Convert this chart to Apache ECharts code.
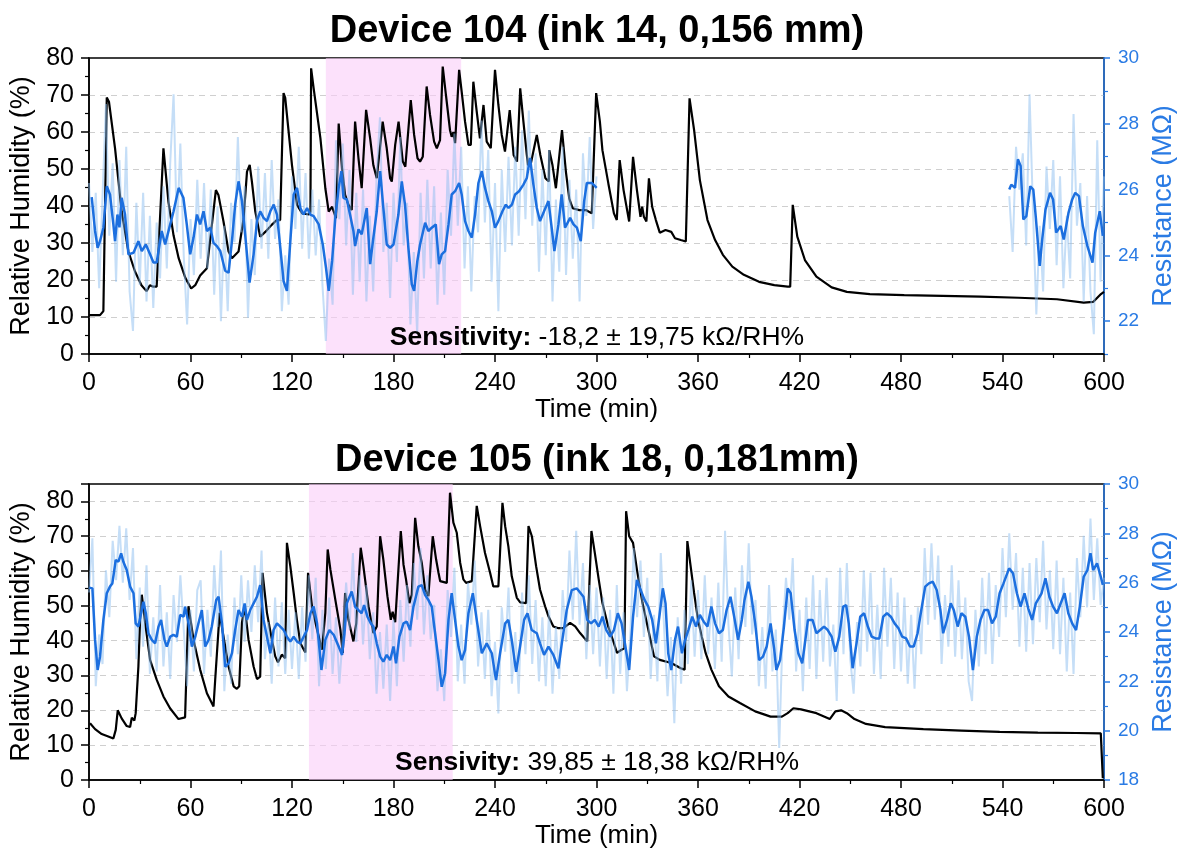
<!DOCTYPE html>
<html><head><meta charset="utf-8">
<script src="https://cdn.jsdelivr.net/npm/echarts@6/dist/echarts.min.js"></script>
<style>html,body{margin:0;padding:0;background:#fff}#c{width:1178px;height:854px}</style>
</head><body><div id="c"></div>
<script>
// ---------- DATA ----------
const titles = ['Device 104 (ink 14, 0,156 mm)', 'Device 105 (ink 18, 0,181mm)'];
const sensLabels = ['Sensitivity:', 'Sensivity:'];
const sensValues = [' -18,2 ± 19,75 kΩ/RH%', ' 39,85 ± 18,38 kΩ/RH%'];
const shade104 = [140, 220];
const shade105 = [130, 215];

// Device 104 relative humidity [time, RH]
const rh104 = [[0,10.5],[6.5,10.5],[8.5,11.6],[10.5,69.3],[11.8,68.2],[15.4,55.6],[19.3,38.5],[23.3,27.7],[27.2,22.3],[31,18.6],[34,17],[36,18.6],[38,18.2],[40,18.2],[44,55.6],[47,41],[50,32],[53,25.9],[57,20.5],[60.4,17.7],[62.8,18.6],[65.7,21.2],[69.7,23.2],[75,44.3],[76.5,43],[79.5,35.8],[82.5,27.7],[84.5,25.9],[88.4,27.7],[91.4,36.7],[93.4,49.3],[95,51.1],[96.3,46.6],[98.3,38.5],[101.2,31.7],[104.2,33],[108,34.9],[111,36.2],[113,36.2],[115,70.5],[116,69.2],[120,51],[123,40.3],[126,38],[130,37.7],[130.9,38.4],[131.3,77.2],[132.8,71.8],[136.8,58.3],[139.7,44.8],[141.7,38.5],[143.7,39.8],[146,36.7],[147.6,62.3],[149.6,50],[151.4,43],[153.4,40.3],[155.3,38.9],[157.3,62.8],[159.3,52.9],[161.2,44.8],[163.8,66],[166.2,58.3],[168.1,51],[170.1,47.5],[173.6,62.8],[176,55.6],[178,47.5],[179,46.6],[181,56.5],[183,62.8],[185.5,52],[187,50.6],[190.2,68.6],[192.2,59.2],[194.2,52.9],[195.7,52],[197.3,53.3],[199.6,72.3],[201.6,64.6],[204,57.4],[205.6,55.6],[207.5,57.8],[209.1,77.7],[211,70],[213.4,60.5],[214.4,58.7],[215.4,60],[216.4,57],[218.8,76.8],[220.3,70.9],[222.3,62.8],[224.3,56.5],[225.7,56.5],[227.2,73.6],[229.2,65.5],[231.1,58.3],[233.2,67.3],[235.1,57.4],[237.5,55.6],[240,76.8],[242,67.3],[244,59.2],[245.9,54.7],[246.9,54.3],[248.7,65.9],[251,53.8],[253,52],[254.9,71.8],[256.8,62.8],[258.8,53.8],[259.5,51.1],[261,51.1],[264.7,59.2],[266.8,53.8],[269.8,47.5],[271.8,46.6],[272.1,55.1],[274,51],[276,44.8],[279.6,60.5],[281.9,49.3],[283.9,42],[285.9,39.4],[289.8,38.9],[293.7,38.9],[297.2,38],[299.8,70.5],[302,62.8],[303.5,55.1],[307,46.1],[310.3,38],[312,36.2],[313.7,52.4],[316,44.3],[319.3,35.8],[321.6,53.3],[323.9,44.3],[326,37.1],[327,39.8],[328,37.1],[329.5,35.8],[331,47.5],[332.9,39.8],[335.1,36.2],[337.4,32.8],[340.8,33.5],[344.2,33],[346.4,31.3],[349.8,30.8],[352.8,30.4],[355,69.1],[357.7,60.5],[361.1,47],[365.6,36.2],[370.1,30.8],[374.7,26.8],[380.3,23.6],[387.1,21.4],[396.1,19.5],[405.1,18.6],[413,18.2],[414.5,18.2],[416,40.3],[418.7,31.7],[423.2,25.4],[430,20.9],[439,18],[448,16.8],[461.6,16.2],[481.9,15.9],[504.5,15.7],[527,15.5],[549.6,15.2],[572.2,14.8],[588,13.9],[593.7,14.1],[598.2,16.2],[600,16.8]];

// Device 104 smoothed resistance (MΩ) [time, R]
const r104SmoothA = [[1.6,25.77],[3.6,24.74],[5.1,24.23],[6.5,24.43],[8.5,24.84],[10.5,26.1],[12.4,25.85],[14.4,24.94],[15.4,24.43],[16.8,25.24],[18,24.85],[19.3,25.75],[21.3,25.24],[23.3,24.03],[26.3,24.08],[29.2,24.43],[31.2,24.13],[33.6,24.33],[36.1,24.03],[38.1,23.78],[40,23.78],[43,24.74],[45,24.33],[48,24.94],[50,25.34],[53,26.05],[55.8,25.75],[57.8,24.94],[59.8,24.03],[61.8,24.54],[63.8,25.24],[65.7,24.94],[67.7,25.34],[69.7,24.74],[71.7,24.84],[73.6,24.38],[75.6,24.28],[77.6,24.13],[80.5,23.53],[82.5,23.47],[84.5,24.43],[86.4,25.54],[88.4,26.25],[90.4,25.65],[92.3,24.64],[94.9,23.17],[97.3,24.03],[99.3,25.04],[101.2,25.34],[103.2,25.14],[105.2,25.04],[107.2,25.34],[109.2,25.54],[111.1,25.24],[113.1,24.23],[115,23.22],[117,22.92],[119,24.43],[121,25.85],[123,26.05],[124.9,25.44],[126.9,25.24],[128.9,25.44],[130.9,25.24],[132.8,25.19],[135.8,24.94],[138.2,24.33],[140.1,23.62],[141.7,22.92],[143.7,23.83],[145.6,25.14],[147.6,26.05],[149.2,26.56],[150.4,25.75],[152.4,25.7],[154.3,25.24],[156.3,24.74],[157.3,24.28],[159.3,24.79],[161.2,24.64],[164.2,25.44],[166.2,23.73],[168.1,24.54],[170.1,25.34],[172.1,26.56],[174,25.44],[176,24.33],[178,24.23],[180,24.33],[182.9,25.24],[184.9,26.25],[186.8,25.54],[188.8,24.23],[190.8,23.12],[192.2,22.92],[194.1,23.83],[195.7,24.33],[198.7,24.99],[200.6,24.74],[202.6,24.84],[205,24.94],[206.9,23.73],[208.5,24.03],[210.5,24.13],[212.5,24.94],[214.4,25.85],[216.4,25.95],[218.8,26.2],[220.3,25.85],[222.3,25.04],[224.3,24.74],[226.3,24.54],[228.2,25.24],[230.2,26.2],[232.2,26.56],[234.1,26.05],[236.1,25.65],[238.1,25.34],[240,24.84],[242,25.04],[244.4,25.34],[246.4,25.54],[248,25.44],[250,25.54],[251.9,25.85],[254.2,25.95],[256.8,26.15],[258.8,26.35],[260.7,26.96],[262.7,26.15],[264.7,25.44],[266.6,25.04],[269,25.34],[271.6,25.65],[273.5,24.84],[275.1,24.13],[277.5,24.94],[279.4,25.85],[281.4,24.84],[284.4,25.14],[286.4,24.94],[288.4,24.84],[290.7,24.43],[292.7,25.65],[294.3,26.2],[297.2,26.2],[300.1,26.05]];
const r104SmoothB = [[544,26],[545.2,26.15],[547.4,26.05],[549.1,26.92],[550.7,26.72],[552.3,25.09],[554.1,25.19],[556.4,26.1],[558.2,26],[559.8,25.09],[562,23.68],[563.5,24.49],[565.4,25.39],[568.1,25.9],[569.9,25.7],[571.7,24.69],[574.4,24.89],[576.2,24.48],[579,25.29],[581.2,25.7],[583,25.9],[585.2,25.8],[587.5,24.89],[590.2,24.28],[593.2,23.78],[594.8,24.69],[597.5,25.34],[599.3,24.59]];

// Device 104 raw resistance (MΩ), one reading every 2 min
const r104RawAStart = 0;
const r104RawA = [
26.2,24.1,25.9,23.0,25.8,28.6,24.6,26.8,23.2,26.9,
24.0,27.3,22.9,21.7,25.6,23.1,25.9,22.6,25.2,22.4,
25.0,23.3,26.1,23.6,26.8,28.9,24.7,27.4,24.0,21.9,
25.1,23.4,26.3,23.9,26.2,23.6,26.0,22.8,25.5,22.0,
24.9,22.3,25.6,24.4,27.6,24.7,26.1,22.1,25.1,23.4,
26.7,24.2,26.5,23.9,26.9,24.5,25.7,22.3,24.0,22.5,
26.4,24.8,27.3,24.2,26.5,23.9,26.0,24.0,25.7,23.1,
21.4,23.9,22.5,27.5,25.1,27.4,24.3,26.6,22.8,25.9,
23.2,26.0,22.6,25.2,22.9,26.4,28.2,24.1,25.6,22.7,
25.9,23.8,27.6,24.3,25.6,21.9,24.1,21.6,25.9,23.3,
26.3,23.6,26.1,22.5,25.3,22.8,26.6,24.6,27.7,24.9,
27.3,23.6,26.1,22.9,25.8,24.7,28.1,25.0,27.2,23.2,
26.2,22.3,26.6,24.1,27.0,24.3,27.3,24.6,27.8,25.1,
28.4,24.9,27.1,23.5,26.6,24.0,27.2,22.6,25.7,23.5,
27.3,23.4,26.3,23.9,26.0,22.6,27.1,25.2,27.6,24.8,
26.4];
const r104RawBStart = 544;
const r104RawB = [25.8,24.1,27.3,26.0,27.1,24.3,28.9,25.4,22.2,24.9,22.9,26.7,24.8,26.9,23.7,26.4,23.0,25.2,23.3,28.3,24.9,26.2,22.6,25.8,22.9,21.6,27.5,23.2,26.4];
const rawStep = 2;

// Device 105 relative humidity [time, RH]
const rh105 = [[0.6,16.3],[3.6,14.6],[7.5,13.2],[11.4,12.5],[14.4,11.9],[15.8,14.4],[17,20],[19.3,17.7],[22.3,15.5],[24.3,15.2],[25.3,17.9],[26.8,17.1],[27.6,19.2],[29.2,32.6],[30.2,46],[31.2,53.2],[33.2,45.1],[36.1,34.5],[40,28.8],[44,24],[47.9,20.6],[52.9,17.5],[56.8,18],[57.8,18.1],[58.8,49.9],[61.8,40.3],[65.7,31.7],[69.7,24.9],[73.6,21.1],[74.6,28.8],[77.2,48],[79.5,41.2],[82.5,32.6],[85.5,26.9],[87.4,26.2],[88.8,26.9],[90.4,45.1],[92,49.9],[94.3,40.3],[97.3,32.6],[99.3,29],[101.2,29.7],[102.6,59.5],[105.2,48],[108.1,40.3],[110.1,35.5],[111.7,33.8],[114,36],[116,35],[117,68.1],[119,61.4],[121,53.7],[122.9,46],[124.9,39.3],[127.9,36.6],[129.5,59.5],[131.8,49.9],[134.8,43.2],[137.7,37.4],[139.7,48],[141.1,66.2],[142.7,60.4],[145.6,51.8],[148.6,43.2],[150,36.5],[151.4,53.7],[153.4,46],[156.3,39.8],[158,45],[160.6,66.7],[162.2,61.4],[165.2,49.9],[168.1,42.2],[170.1,44.1],[172.1,70],[174,63.3],[176.4,52.8],[178.4,46],[179.5,48.3],[181,45.3],[184.3,71.5],[185.9,61.9],[187.4,57.6],[189.4,50.8],[190.8,53.2],[192.8,75.3],[194.7,67.1],[196.7,62.4],[198.7,54.7],[200.6,52.8],[203.2,70],[205.2,63.3],[206.6,59.5],[207.6,57.1],[208.5,56.6],[211.5,56.6],[213.4,82.5],[215.4,73.9],[217.4,71],[219.4,62.4],[221.3,57.6],[222.9,56.6],[226.3,57.1],[229.2,78.7],[231.2,72.9],[234.1,65.2],[237.1,59.5],[239,55.6],[242,55.6],[244.4,79.6],[246,72.9],[247.9,67.1],[249.9,58.5],[252.9,52.3],[254.9,51],[258.4,50.8],[259.8,72.9],[261.8,70],[264.3,61.4],[266.6,54.7],[269.6,49.9],[271.6,47],[274.5,44.1],[277.5,43.6],[280.4,43.6],[284.4,45.1],[287.4,44.1],[290.3,42.2],[294.5,39.8],[297,71.5],[299,65.2],[301.3,57.6],[303.5,50.8],[306.9,44.1],[310.3,39.3],[312.1,36.5],[314.8,37.4],[316.5,37.8],[317.5,77.2],[319.3,70],[321.6,68.1],[323.9,60.4],[327.2,50.8],[330.6,43.2],[334,35.5],[337.4,34.5],[344.2,33.6],[349.8,32.1],[352.1,31.7],[353.7,68.6],[355.5,61.9],[357.7,53.7],[360,46],[362.2,41.2],[364.5,36.5],[367.9,31.7],[372.4,26.9],[378,24],[384.8,22.1],[393.8,19.7],[402.9,18.2],[409.6,18.2],[413,19.2],[416.4,20.6],[420.9,20.3],[430,19.2],[437.9,17.5],[441.2,19.7],[444.6,20],[448,19.2],[452.5,17.5],[459.3,16.1],[470.6,15.2],[493.2,14.6],[515.7,14.2],[538.3,13.8],[560.9,13.6],[583.5,13.5],[598.1,13.4],[599.3,0.5]];

// Device 105 smoothed resistance (MΩ) [time, R]
const r105Smooth = [[0.2,25.8],[2,25.77],[3.6,23.68],[5.1,22.46],[6.5,23],[8.5,24.49],[10.5,25.57],[12.4,25.84],[13.8,25.97],[15.8,26.92],[17.4,26.85],[19,27.19],[20.3,26.85],[22.3,26.51],[24.3,25.84],[26.3,25.57],[27.6,24.35],[29.2,24.22],[30.8,24.76],[32.2,25.23],[33.6,24.76],[35.1,23.95],[37.1,23.68],[39.1,23.54],[41.1,24.22],[42.6,24.49],[44.6,23.68],[46,23.41],[48,23.81],[49.9,23.88],[51.9,23.81],[53.9,24.69],[55.9,24.62],[56.8,25.03],[58.8,24.35],[60.8,23.41],[62.8,23.81],[64.7,24.35],[66.7,24.89],[68.7,23.41],[70.7,23.68],[72.6,24.22],[75.2,25.3],[76.6,25.43],[78.6,24.35],[80.5,22.59],[82.5,22.73],[84.5,23.14],[86.4,24.08],[88.4,24.89],[90.4,24.62],[92,25.16],[93.4,24.49],[95.3,24.89],[97.3,25.16],[99.3,25.43],[101.2,25.9],[103.2,24.49],[105.2,23.81],[107.2,23.14],[109.1,24.08],[111.1,24.35],[113.1,24.22],[115.1,24.08],[117,23.81],[119,23.61],[121,23.81],[123,23.61],[124.9,23.54],[126.9,23.81],[128.9,24.08],[130.9,24.76],[132.8,25.03],[134.8,24.35],[137.4,22.46],[139.7,23.68],[142.1,24.08],[144.7,23.88],[147.6,23.41],[149.6,23.07],[151,23.9],[152.4,25.16],[155.3,25.64],[157.3,25.03],[159.3,24.89],[161.2,24.76],[162.6,25.09],[164.6,24.62],[166.6,24.35],[168.1,24.22],[170.1,23.54],[172.1,23],[174,22.8],[176,23.07],[178,22.86],[180,23.41],[181.5,22.73],[183.5,23.81],[185.9,24.35],[187.8,24.42],[189.8,24.08],[191.8,25.03],[194.7,25.84],[196.7,25.9],[198.7,25.5],[200.6,25.3],[202.6,25.03],[204.6,23.95],[206.6,22.86],[208.5,21.78],[210.5,22.32],[212.5,24.49],[214.4,25.57],[216.4,24.49],[218.4,23.41],[220.3,22.86],[222.3,23.27],[224.3,24.76],[226.9,25.57],[229.2,24.49],[232.2,23.14],[235.1,23.54],[238.1,23.14],[240.6,22.05],[243,23.14],[246,24.35],[247.9,24.49],[249.9,23.68],[252.5,22.39],[254.8,23.41],[257.2,24.49],[259.2,24.76],[261.7,24.08],[264.7,23.95],[266.6,23.54],[269,23.07],[271.6,23.41],[274.5,23.07],[277.5,22.53],[279.5,23.54],[282.4,24.89],[285.4,25.7],[288.3,25.77],[290.3,25.6],[292.3,25.43],[294.5,24.49],[296.8,24.35],[299,24.49],[301.3,24.22],[303.5,24.62],[305.8,24.08],[308.1,23.81],[310.3,24.08],[312.6,24.76],[314.8,24.35],[317.1,23.41],[319.3,22.46],[321.6,24.62],[323.9,26.11],[326.1,25.7],[328.4,25.3],[330.6,25.03],[332.9,24.49],[335.1,23.54],[337.4,24.76],[339.2,25.77],[340.8,25.16],[342.4,23.14],[344.2,22.46],[346.4,23.68],[348.2,24.22],[350.5,23.14],[352.1,23.61],[354.3,24.08],[356.6,24.62],[358.8,24.22],[361.1,24.69],[363.4,24.42],[365.6,24.22],[367.9,25.03],[370.1,24.35],[372.4,23.95],[374.7,24.08],[376.9,24.89],[379.2,25.43],[381.4,24.62],[383.7,23.68],[385.9,24.49],[387.5,25.3],[389.8,26.04],[391.6,25.43],[393.8,24.35],[396.1,22.86],[398.4,23],[400.6,23.41],[402.9,24.35],[405.1,23.27],[406.3,22.46],[408.5,22.86],[410.8,24.22],[413,25.77],[414.8,25.57],[417.1,24.08],[419.3,23.14],[421.6,22.73],[423.2,23.54],[425,24.49],[427.7,24.49],[430,23.95],[432.2,24.08],[434.5,24.22],[436.7,24.08],[439,23.81],[441.2,23.2],[443.5,23.81],[445.8,25.03],[447.6,25.09],[449.1,24.35],[451.4,22.53],[453.7,23.54],[455.9,24.62],[458.2,24.76],[460.4,24.22],[462.7,23.81],[465,23.74],[467.2,23.74],[469.5,24.62],[471.7,24.76],[474,24.62],[476.2,24.35],[478.5,24.15],[480.7,23.81],[483,23.74],[485.3,23.41],[487.5,23.41],[489.8,23.95],[492,24.89],[494.3,25.84],[496.5,25.97],[498.8,26.04],[501.1,25.7],[503.3,24.89],[504.9,23.95],[507.2,24.49],[509.4,25.16],[511.2,24.89],[513.5,24.22],[515.7,24.76],[518,24.62],[520.2,23.81],[522.5,22.46],[524.8,23.81],[527,24.49],[529.3,24.89],[531.5,24.89],[533.8,24.35],[536,24.62],[538.3,25.57],[540.6,25.97],[543.9,26.58],[546.2,26.38],[548.5,25.57],[550.7,25.03],[553,25.57],[555.2,24.96],[557.5,24.49],[559.7,25.16],[563.1,25.57],[565.4,26.18],[567.7,25.43],[569.9,25.03],[572.2,24.76],[574.4,25.16],[576.7,25.57],[578.9,24.76],[581.2,24.35],[583.5,24.08],[585.7,25.03],[588,26.24],[590.2,26.51],[592,27.19],[593.6,26.51],[595.9,26.78],[598.1,26.24],[599.3,25.91]];

// Device 105 raw resistance (MΩ), one reading every 2 min from t = 0
const r105RawStart = 0;
const r105Raw = [
25.6,27.8,21.8,23.9,22.7,26.5,24.6,27.7,26.1,28.3,
26.0,28.2,25.3,27.4,22.9,25.8,23.4,26.7,22.3,24.6,
22.4,25.9,22.6,24.8,22.1,25.5,23.6,26.3,24.1,21.8,
24.9,22.4,25.7,26.1,22.3,24.9,23.0,26.7,24.2,27.3,
21.6,23.9,21.9,25.4,23.1,26.3,23.6,26.1,24.0,26.7,
24.4,27.3,22.9,24.4,21.9,25.4,22.6,25.2,22.3,24.9,
22.5,24.8,22.1,25.0,22.8,26.3,23.7,26.2,21.8,24.9,
22.5,25.4,22.3,24.6,21.9,23.8,26.0,24.1,27.2,23.6,
26.3,23.5,25.9,22.9,24.8,21.5,24.0,21.7,24.3,21.2,
24.5,21.8,25.3,22.8,25.9,23.4,26.8,24.5,27.4,23.9,
26.3,23.7,25.1,21.6,23.3,21.2,25.7,23.8,26.6,22.0,
24.3,21.9,26.0,24.3,26.9,22.6,24.8,22.1,24.9,21.4,
23.6,20.7,25.0,23.2,25.8,21.9,24.0,21.5,25.6,23.1,
26.3,22.7,25.3,22.0,24.6,21.8,24.9,21.5,24.2,22.1,
25.7,23.6,27.3,24.5,28.1,24.3,26.8,22.9,25.9,23.1,
25.8,22.6,25.4,22.1,24.9,21.5,25.9,22.3,24.8,21.6,
23.9,27.4,24.6,26.9,23.8,26.2,22.1,24.7,22.0,27.2,
24.1,21.4,23.8,20.3,24.6,21.9,24.9,22.7,26.1,23.0,
25.7,22.9,26.3,23.1,25.4,22.5,26.0,22.8,28.1,24.3,
22.2,25.8,22.9,26.7,24.2,27.6,23.9,25.3,21.8,24.2,
21.7,25.9,22.4,24.1,19.3,23.9,26.2,24.5,27.0,22.4,
24.9,21.6,25.4,22.5,26.3,22.1,25.7,22.8,26.2,22.6,
24.3,21.2,26.6,23.1,26.8,22.9,21.5,24.4,22.6,26.5,
23.2,26.4,22.3,25.1,22.1,26.6,23.4,26.2,22.5,25.6,
22.4,25.4,21.9,24.7,21.7,25.0,23.1,27.4,24.3,27.6,
24.5,27.1,22.7,25.5,23.4,26.7,23.0,26.1,22.9,25.4,
22.0,21.2,24.9,22.6,26.2,23.1,26.4,22.7,25.9,23.8,
27.4,24.6,28.0,24.9,27.2,23.4,26.6,23.2,26.8,23.5,
27.0,24.4,27.7,24.1,26.5,23.3,26.9,23.1,26.2,22.4,
25.6,22.3,27.0,24.6,27.9,25.0,28.6,25.3,27.8,25.1,
26.2];

// ---------- CHART ----------
const FONT = '"Liberation Sans", Arial, sans-serif';
const BLUE_AXIS = '#2a7be4';
const BLUE_LINE = '#1c6fdf';
const BLUE_RAW = 'rgba(140,190,240,0.5)';
const PINK = 'rgba(250,205,248,0.6)';

function withTime(values, start, step) {
  return values.map((v, i) => [start + i * step, v]);
}

const grids = [
  {left: 89, top: 58, width: 1015, height: 296},
  {left: 89, top: 484, width: 1015, height: 296}
].map(g => Object.assign({show: true, borderColor: '#000', borderWidth: 1.5, backgroundColor: 'transparent', containLabel: false, outerBoundsMode: 'none'}, g));

function xAxis(gi) {
  return {
    type: 'value', gridIndex: gi, min: 0, max: 600, interval: 60,
    axisLine: {show: true, lineStyle: {color: '#000', width: 1.5}},
    axisTick: {show: true, length: 8, lineStyle: {color: '#000', width: 1.5}},
    minorTick: {show: true, splitNumber: 2, length: 4, lineStyle: {color: '#000', width: 1.2}},
    axisLabel: {fontSize: 25, color: '#000', margin: 17, fontFamily: FONT},
    splitLine: {show: false},
    name: 'Time (min)', nameLocation: 'middle', nameGap: 43,
    nameTextStyle: {fontSize: 26, color: '#000', fontFamily: FONT}
  };
}
function leftAxis(gi, max) {
  return {
    type: 'value', gridIndex: gi, position: 'left', min: 0, max: max, interval: 10,
    axisLine: {show: true, lineStyle: {color: '#000', width: 1.5}},
    axisTick: {show: true, length: 8, lineStyle: {color: '#000', width: 1.5}},
    minorTick: {show: true, splitNumber: 2, length: 4, lineStyle: {color: '#000', width: 1.2}},
    axisLabel: {fontSize: 25, color: '#000', margin: 15, fontFamily: FONT, showMaxLabel: max % 10 === 0},
    splitLine: {show: true, showMinLine: false, showMaxLine: false, lineStyle: {color: '#cfcfcf', type: [6, 5], width: 1}},
    name: 'Relative Humidity (%)', nameLocation: 'middle', nameGap: 48, nameRotate: 90,
    nameTextStyle: {fontSize: 27, color: '#000', fontFamily: FONT}
  };
}
function rightAxis(gi, min, max, labels) {
  const ax = {
    type: 'value', gridIndex: gi, position: 'right', min: min, max: max, interval: labels ? 1 : 2,
    axisLine: {show: true, lineStyle: {color: BLUE_AXIS, width: 1.5}},
    axisTick: {show: true, length: 6, lineStyle: {color: BLUE_AXIS, width: 1.5}},
    axisLabel: {fontSize: 19, color: BLUE_AXIS, margin: 14, fontFamily: FONT},
    splitLine: {show: false},
    name: 'Resistance (MΩ)', nameLocation: 'middle', nameGap: 44, nameRotate: 90,
    nameTextStyle: {fontSize: 27, color: BLUE_AXIS, fontFamily: FONT}
  };
  if (labels) {
    ax.axisLabel.customValues = labels;
    ax.axisTick.customValues = labels;
  } else {
    ax.minorTick = {show: true, splitNumber: 2, length: 4, lineStyle: {color: BLUE_AXIS, width: 1.2}};
  }
  return ax;
}
const rightTopMinor = {
  type: 'value', gridIndex: 0, position: 'right', min: 21, max: 30, interval: 1,
  axisLine: {show: false},
  axisTick: {show: true, length: 4, customValues: [21, 23, 25, 27, 29], lineStyle: {color: BLUE_AXIS, width: 1.2}},
  axisLabel: {show: false}, splitLine: {show: false}
};

function line(xi, yi, data, color, width, z) {
  return {
    type: 'line', xAxisIndex: xi, yAxisIndex: yi, data: data, z: z,
    showSymbol: false, symbol: 'none', silent: true, animation: false,
    lineStyle: {color: color, width: width}
  };
}
function shadeSeries(xi, yi, range) {
  return {
    type: 'line', xAxisIndex: xi, yAxisIndex: yi, data: [], z: 1, silent: true, animation: false,
    markArea: {silent: true, itemStyle: {color: PINK}, data: [[{xAxis: range[0]}, {xAxis: range[1]}]]}
  };
}
function textEl(y, text, font, rich) {
  const st = {text: text, fill: '#000', align: 'center', verticalAlign: 'middle', textAlign: 'center', textVerticalAlign: 'middle'};
  if (font) st.font = font;
  if (rich) st.rich = rich;
  return {type: 'text', x: 597, y: y, z: 100, style: st};
}
const sensRich = {b: {font: 'bold 26.5px ' + FONT, fill: '#000'}, n: {font: '26.5px ' + FONT, fill: '#000'}};

const option = {
  backgroundColor: '#fff',
  animation: false,
  grid: grids,
  xAxis: [xAxis(0), xAxis(1)],
  yAxis: [
    leftAxis(0, 80),
    rightAxis(0, 21, 30, [22, 24, 26, 28, 30]),
    rightTopMinor,
    leftAxis(1, 85),
    rightAxis(1, 18, 30, null)
  ],
  series: [
    shadeSeries(0, 0, shade104),
    line(0, 0, rh104, '#000', 2.2, 2),
    line(0, 1, withTime(r104RawA, r104RawAStart, rawStep), BLUE_RAW, 2, 3),
    line(0, 1, withTime(r104RawB, r104RawBStart, rawStep), BLUE_RAW, 2, 3),
    line(0, 1, r104SmoothA, BLUE_LINE, 2.5, 4),
    line(0, 1, r104SmoothB, BLUE_LINE, 2.5, 4),
    shadeSeries(1, 3, shade105),
    line(1, 3, rh105, '#000', 2.2, 2),
    line(1, 4, withTime(r105Raw, r105RawStart, rawStep), BLUE_RAW, 2, 3),
    line(1, 4, r105Smooth, BLUE_LINE, 2.5, 4)
  ],
  graphic: [
    textEl(32, titles[0], 'bold 38px ' + FONT),
    textEl(461, titles[1], 'bold 38px ' + FONT),
    textEl(338, '{b|' + sensLabels[0] + '}{n|' + sensValues[0] + '}', null, sensRich),
    textEl(763, '{b|' + sensLabels[1] + '}{n|' + sensValues[1] + '}', null, sensRich)
  ]
};

const chart = echarts.init(document.getElementById('c'), null, {renderer: 'canvas'});
chart.setOption(option);
</script>
</body></html>
